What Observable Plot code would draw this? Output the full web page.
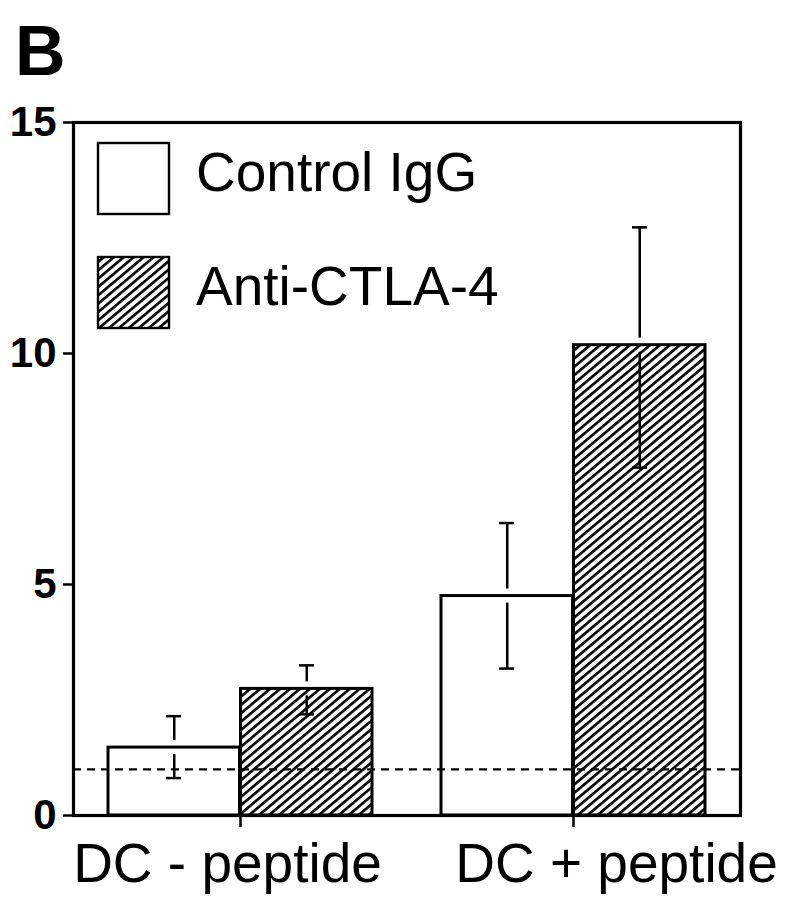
<!DOCTYPE html>
<html>
<head>
<meta charset="utf-8">
<script src="https://cdn.jsdelivr.net/npm/d3@7"></script>
<script src="https://cdn.jsdelivr.net/npm/@observablehq/plot@0.6"></script>
<style>
  html, body { margin: 0; padding: 0; background: #fff; }
  #wrap { position: relative; width: 785px; height: 900px; overflow: hidden; font-family: "Liberation Sans", Arial, Helvetica, sans-serif; }
  #chart { position: absolute; left: 0; top: 95px; }
  #overlay { position: absolute; left: 0; top: 0; pointer-events: none; }
</style>
</head>
<body>
<div id="wrap">
  <div id="chart"></div>
  <svg id="overlay" width="785" height="900"></svg>
</div>
<script>
// ---- data ----
const groups = ["DC - peptide", "DC + peptide"];
const seriesNames = ["Control IgG", "Anti-CTLA-4"];
const controlMean = [1.47, 4.75];
const controlHigh = [2.15, 6.33];
const controlLow  = [0.81, 3.18];
const antiMean = [2.74, 10.18];
const antiHigh = [3.25, 12.73];
const antiLow  = [2.19, 7.53];
const baseline = [1];
const yTicks = [0, 5, 10, 15];
const panelLabel = "B";

const control = groups.map((g, i) => ({group: g, value: controlMean[i], hi: controlHigh[i], lo: controlLow[i]}));
const anti = groups.map((g, i) => ({group: g, value: antiMean[i], hi: antiHigh[i], lo: antiLow[i]}));

const FONT = '"Liberation Sans", Arial, Helvetica, sans-serif';
const HALF = 132.5;     // half of a group band, in px
const CAP_IN = 58;      // error cap inset from band edge
const CAP_OUT = 265 - 74;

const plot = Plot.plot({
  width: 785,
  height: 805,
  marginTop: 27,
  marginBottom: 85,
  marginLeft: 73,
  marginRight: 45,
  style: {fontFamily: FONT, color: "black", background: "white", overflow: "visible"},
  x: {type: "band", domain: groups, paddingInner: 0.2066, paddingOuter: 0.104, align: 0.5},
  y: {domain: [0, 15]},
  marks: [
    // bars
    Plot.barY(control, {x: "group", y: "value", fill: "white", stroke: "black", strokeWidth: 3, insetRight: HALF}),
    Plot.barY(anti, {x: "group", y: "value", fill: "url(#hatch)", stroke: "black", strokeWidth: 3, insetLeft: HALF}),
    // error bars (upper and lower parts, small gap at bar top)
    Plot.ruleX(control, {x: "group", y1: "hi", y2: "value", dx: -HALF / 2, strokeWidth: 2.5, stroke: "black", insetBottom: 7}),
    Plot.ruleX(control, {x: "group", y1: "value", y2: "lo", dx: -HALF / 2, strokeWidth: 2.5, stroke: "black", insetTop: 7}),
    Plot.ruleX(anti, {x: "group", y1: "hi", y2: "value", dx: HALF / 2, strokeWidth: 2.5, stroke: "black", insetBottom: 7}),
    Plot.ruleX(anti, {x: "group", y1: "value", y2: "lo", dx: HALF / 2, strokeWidth: 2.5, stroke: "black", insetTop: 7}),
    Plot.tickY(control, {x: "group", y: "hi", insetLeft: CAP_IN, insetRight: CAP_OUT, strokeWidth: 2.5, stroke: "black"}),
    Plot.tickY(control, {x: "group", y: "lo", insetLeft: CAP_IN, insetRight: CAP_OUT, strokeWidth: 2.5, stroke: "black"}),
    Plot.tickY(anti, {x: "group", y: "hi", insetLeft: CAP_OUT, insetRight: CAP_IN, strokeWidth: 2.5, stroke: "black"}),
    Plot.tickY(anti, {x: "group", y: "lo", insetLeft: CAP_OUT, insetRight: CAP_IN, strokeWidth: 2.5, stroke: "black"}),
    // baseline dashed
    Plot.ruleY(baseline, {stroke: "black", strokeWidth: 2.2, strokeDasharray: "8,6"}),
    // frame
    Plot.frame({stroke: "black", strokeWidth: 3.2}),
    // y axis
    Plot.axisY({ticks: yTicks, tickSize: 10, tickPadding: 7, strokeWidth: 2.5, fontSize: 42, fontWeight: "bold", label: null, tickFormat: d => String(d)}),
    // x axis ticks
    Plot.axisX({tickSize: 12, strokeWidth: 2.5, text: null, label: null}),
    // x labels (one per group, each nudged as in the figure)
    Plot.axisX({ticks: [groups[0]], tickSize: 0, tickPadding: 27, dx: -13, fontSize: 55, label: null}),
    Plot.axisX({ticks: [groups[1]], tickSize: 0, tickPadding: 27, dx: 43, fontSize: 55, label: null})
  ]
});

// hatch pattern definition
function addHatch(svg, id) {
  const defs = d3.select(svg).insert("defs", ":first-child");
  const p = defs.append("pattern")
    .attr("id", id)
    .attr("patternUnits", "userSpaceOnUse")
    .attr("width", 10).attr("height", 6.4)
    .attr("patternTransform", "rotate(-40)");
  p.append("rect").attr("width", 10).attr("height", 6.4).attr("fill", "white");
  p.append("rect").attr("width", 10).attr("height", 2.6).attr("fill", "black");
}
addHatch(plot, "hatch");
document.getElementById("chart").appendChild(plot);

// overlay: panel letter + legend
const ov = d3.select("#overlay");
addHatch(ov.node(), "hatchLegend");
ov.append("text").attr("x", 15).attr("y", 75)
  .attr("font-family", FONT).attr("font-weight", "bold").attr("font-size", 70)
  .text(panelLabel);

const legendFills = ["white", "url(#hatchLegend)"];
const legendTop = [143, 257];
seriesNames.forEach((name, i) => {
  ov.append("rect").attr("x", 98).attr("y", legendTop[i]).attr("width", 71).attr("height", 71)
    .attr("fill", legendFills[i]).attr("stroke", "black").attr("stroke-width", 2.4);
  ov.append("text").attr("x", 196).attr("y", legendTop[i] + 48)
    .attr("font-family", FONT).attr("font-size", 55).text(name);
});
</script>
</body>
</html>
